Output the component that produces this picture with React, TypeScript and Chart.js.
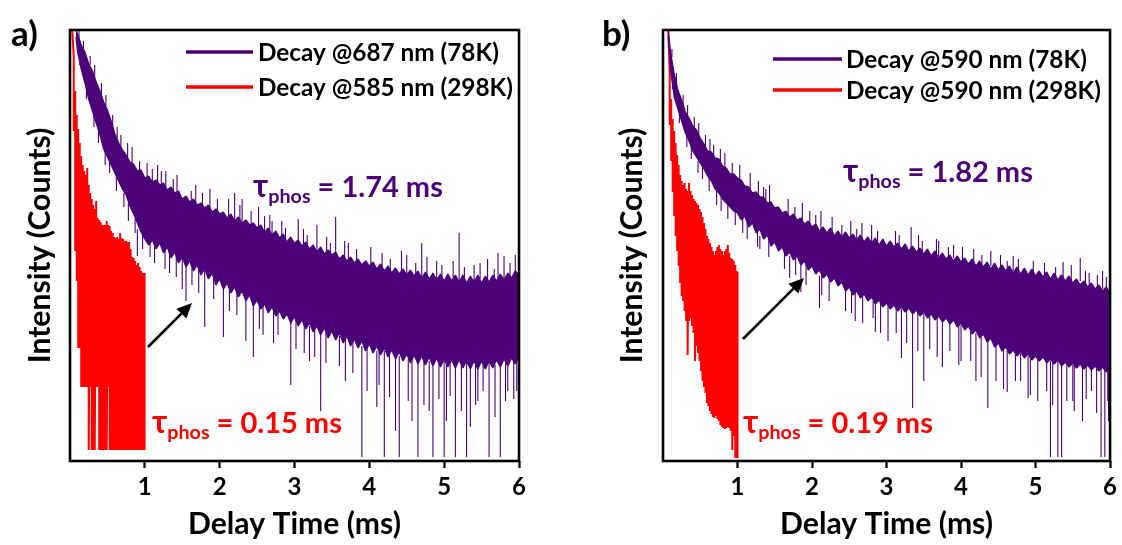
import React, { useEffect, useRef } from "react";
import { Chart, registerables } from "chart.js";

Chart.register(...registerables);

const FONT = "Lato, 'Open Sans', 'DejaVu Sans', sans-serif";
const PURPLE = "#4b0078";
const RED = "#ff0000";

// ---------- axis text ----------
const xTickValues = [0, 1, 2, 3, 4, 5, 6];
const xAxisTitle = "Delay Time (ms)";
const yAxisTitle = "Intensity (Counts)";

// ---------- panel a ----------
const legendA = ["Decay @687 nm (78K)", "Decay @585 nm (298K)"];
const tauA = ["1.74", "0.15"];

// 78 K trace: upper / lower edge of the dense noisy band (arbitrary counts)
const timePurpleA = [
  0.08, 0.1, 0.15, 0.2, 0.25, 0.3, 0.35, 0.4, 0.45, 0.5,
  0.55, 0.6, 0.65, 0.7, 0.75, 0.8, 0.85, 0.9, 0.95, 1,
  1.05, 1.1, 1.15, 1.2, 1.25, 1.3, 1.35, 1.4, 1.45, 1.5,
  1.55, 1.6, 1.65, 1.7, 1.75, 1.8, 1.85, 1.9, 1.95, 2,
  2.05, 2.1, 2.15, 2.2, 2.25, 2.3, 2.35, 2.4, 2.45, 2.5,
  2.55, 2.6, 2.65, 2.7, 2.75, 2.8, 2.85, 2.9, 2.95, 3,
  3.05, 3.1, 3.15, 3.2, 3.25, 3.3, 3.35, 3.4, 3.45, 3.5,
  3.55, 3.6, 3.65, 3.7, 3.75, 3.8, 3.85, 3.9, 3.95, 4,
  4.05, 4.1, 4.15, 4.2, 4.25, 4.3, 4.35, 4.4, 4.45, 4.5,
  4.55, 4.6, 4.65, 4.7, 4.75, 4.8, 4.85, 4.9, 4.95, 5,
  5.05, 5.1, 5.15, 5.2, 5.25, 5.3, 5.35, 5.4, 5.45, 5.5,
  5.55, 5.6, 5.65, 5.7, 5.75, 5.8, 5.85, 5.9, 5.95, 6,
];
const hiPurpleA = [
  431, 427, 416, 409, 397, 390, 379, 370, 359, 351,
  340, 327, 318, 311, 306, 299, 297, 290, 291, 283,
  285, 279, 281, 276, 278, 271, 274, 268, 270, 262,
  265, 259, 262, 256, 258, 253, 256, 249, 252, 247,
  249, 243, 247, 240, 244, 238, 241, 236, 238, 233,
  236, 229, 233, 226, 230, 223, 227, 219, 224, 218,
  221, 215, 219, 212, 216, 209, 214, 207, 211, 206,
  209, 202, 206, 200, 204, 198, 202, 196, 200, 195,
  199, 192, 197, 190, 195, 188, 193, 187, 192, 186,
  191, 185, 190, 183, 189, 182, 188, 181, 187, 180,
  187, 180, 186, 179, 186, 178, 185, 179, 186, 178,
  185, 179, 186, 180, 187, 181, 188, 183, 190, 186,
];
const loPurpleA = [
  424, 410, 392, 378, 362, 350, 338, 326, 312, 304,
  296, 288, 280, 272, 266, 255, 247, 238, 229, 222,
  216, 221, 212, 218, 208, 214, 203, 209, 198, 204,
  194, 200, 190, 196, 186, 192, 182, 188, 176, 182,
  172, 178, 168, 174, 164, 170, 160, 166, 155, 161,
  152, 157, 148, 154, 145, 150, 142, 147, 138, 144,
  135, 141, 132, 138, 129, 135, 126, 133, 123, 130,
  121, 128, 118, 125, 115, 122, 113, 120, 110, 117,
  108, 115, 106, 113, 104, 111, 102, 109, 100, 107,
  98, 106, 97, 105, 96, 104, 95, 103, 94, 102,
  94, 101, 93, 101, 93, 100, 92, 100, 92, 100,
  92, 100, 93, 101, 94, 102, 95, 103, 97, 104,
];
// large isolated spikes leaving the band: time, start, end
const spikeTimePurpleA = [
  0.9, 1.1, 1.22, 1.5, 1.55, 1.62, 1.8, 2.05, 2.2, 2.3,
  2.35, 2.45, 2.6, 2.7, 2.72, 2.95, 3.05, 3.2, 3.3, 3.35,
  3.55, 3.6, 3.72, 3.9, 4.1, 4.2, 4.35, 4.4, 4.5, 4.52,
  4.65, 4.7, 4.8, 4.85, 4.9, 5, 5.08, 5.15, 5.2, 5.3,
  5.35, 5.4, 5.45, 5.58, 5.6, 5.75, 5.8, 5.85, 5.93, 5.95,
];
const spikeFromPurpleA = [
  232, 270, 268, 205, 200, 250, 190, 175, 235, 235,
  165, 160, 225, 225, 150, 140, 210, 135, 205, 130,
  200, 125, 198, 115, 110, 110, 105, 105, 185, 102,
  100, 183, 100, 100, 182, 100, 100, 100, 180, 100,
  100, 180, 100, 178, 100, 100, 180, 100, 100, 186,
];
const spikeToPurpleA = [
  205, 292, 290, 172, 160, 270, 134, 124, 268, 262,
  120, 104, 245, 240, 118, 76, 242, 100, 236, 50,
  244, 95, 218, 4, 54, 4, 30, 4, 206, 60,
  4, 218, 50, 4, 200, 4, 65, 4, 228, 4,
  34, 196, 60, 202, 4, 4, 205, 70, 62, 206,
];
// small spikes fringing the band: time, start, end
const fineTimePurpleA = [
  0.12, 0.13, 0.18, 0.22, 0.27, 0.32, 0.33, 0.38, 0.42, 0.47,
  0.48, 0.53, 0.57, 0.62, 0.63, 0.68, 0.72, 0.77, 0.78, 0.83,
  0.87, 0.93, 0.97, 1.03, 1.07, 1.13, 1.17, 1.27, 1.28, 1.33,
  1.38, 1.42, 1.43, 1.63, 1.68, 1.72, 1.77, 1.87, 1.92, 1.97,
  2.12, 2.13, 2.23, 2.27, 2.42, 2.52, 2.53, 2.58, 2.67, 2.78,
  2.83, 2.88, 3.02, 3.12, 3.13, 3.17, 3.27, 3.42, 3.43, 3.48,
  3.67, 3.68, 3.78, 3.83, 3.97, 4.02, 4.13, 4.17, 4.27, 4.28,
  4.43, 4.57, 4.62, 4.73, 4.77, 4.93, 4.97, 5.03, 5.12, 5.23,
  5.27, 5.42, 5.48, 5.52, 5.67, 5.68, 5.72, 5.82, 5.88, 5.97,
];
const fineFromPurpleA = [
  422, 404, 411, 372, 396, 346, 383, 330, 365, 310,
  355, 300, 333, 285, 320, 313, 268, 302, 258, 296,
  242, 287, 228, 282, 220, 218, 279, 212, 274, 210,
  270, 205, 268, 196, 258, 193, 255, 252, 184, 249,
  245, 175, 171, 240, 237, 233, 158, 156, 229, 149,
  224, 223, 141, 216, 137, 214, 133, 129, 208, 207,
  203, 122, 119, 199, 114, 197, 111, 193, 107, 191,
  190, 102, 187, 101, 185, 99, 183, 98, 182, 97,
  182, 96, 182, 96, 182, 96, 183, 98, 185, 100,
];
const fineToPurpleA = [
  430, 396, 420, 362, 405, 334, 396, 318, 378, 296,
  366, 288, 346, 270, 334, 326, 254, 318, 240, 314,
  228, 300, 212, 298, 204, 198, 296, 192, 290, 188,
  282, 184, 286, 176, 276, 168, 268, 272, 162, 262,
  262, 150, 146, 256, 250, 254, 132, 126, 246, 126,
  240, 233, 112, 232, 108, 226, 104, 98, 224, 218,
  220, 80, 88, 212, 70, 214, 76, 208, 64, 202,
  210, 40, 198, 56, 204, 62, 196, 40, 200, 50,
  194, 56, 198, 70, 192, 44, 208, 60, 198, 70,
];

// 298 K trace
const timeRedA = [
  0.03, 0.05, 0.07, 0.09, 0.11, 0.13, 0.15, 0.17, 0.19, 0.21,
  0.23, 0.25, 0.27, 0.29, 0.31, 0.33, 0.35, 0.37, 0.39, 0.41,
  0.43, 0.45, 0.47, 0.49, 0.51, 0.53, 0.55, 0.57, 0.59, 0.61,
  0.63, 0.65, 0.67, 0.69, 0.71, 0.73, 0.75, 0.77, 0.79, 0.81,
  0.83, 0.85, 0.87, 0.89, 0.91, 0.93, 0.95, 0.97, 0.99, 1,
];
const hiRedA = [
  431, 405, 370, 346, 332, 318, 305, 296, 290, 286,
  293, 276, 268, 262, 256, 252, 260, 243, 241, 239,
  236, 236, 236, 240, 236, 235, 230, 228, 224, 223,
  224, 222, 228, 223, 222, 220, 220, 219, 219, 212,
  204, 203, 200, 196, 198, 194, 190, 188, 188, 188,
];
const loRedA = [
  431, 330, 210, 180, 113, 113, 74, 74, 74, 74,
  74, 11, 74, 11, 11, 11, 74, 74, 11, 11,
  11, 11, 11, 11, 74, 11, 11, 11, 11, 11,
  11, 11, 11, 11, 11, 11, 11, 11, 11, 11,
  11, 11, 11, 11, 11, 11, 11, 11, 11, 11,
];

// ---------- panel b ----------
const legendB = ["Decay @590 nm (78K)", "Decay @590 nm (298K)"];
const tauB = ["1.82", "0.19"];

const timePurpleB = [
  0.07, 0.1, 0.15, 0.2, 0.25, 0.3, 0.35, 0.4, 0.45, 0.5,
  0.55, 0.6, 0.65, 0.7, 0.75, 0.8, 0.85, 0.9, 0.95, 1,
  1.05, 1.1, 1.15, 1.2, 1.25, 1.3, 1.35, 1.4, 1.45, 1.5,
  1.55, 1.6, 1.65, 1.7, 1.75, 1.8, 1.85, 1.9, 1.95, 2,
  2.05, 2.1, 2.15, 2.2, 2.25, 2.3, 2.35, 2.4, 2.45, 2.5,
  2.55, 2.6, 2.65, 2.7, 2.75, 2.8, 2.85, 2.9, 2.95, 3,
  3.05, 3.1, 3.15, 3.2, 3.25, 3.3, 3.35, 3.4, 3.45, 3.5,
  3.55, 3.6, 3.65, 3.7, 3.75, 3.8, 3.85, 3.9, 3.95, 4,
  4.05, 4.1, 4.15, 4.2, 4.25, 4.3, 4.35, 4.4, 4.45, 4.5,
  4.55, 4.6, 4.65, 4.7, 4.75, 4.8, 4.85, 4.9, 4.95, 5,
  5.05, 5.1, 5.15, 5.2, 5.25, 5.3, 5.35, 5.4, 5.45, 5.5,
  5.55, 5.6, 5.65, 5.7, 5.75, 5.8, 5.85, 5.9, 5.95, 6,
];
const hiPurpleB = [
  431, 410, 387, 371, 361, 349, 343, 335, 331, 323,
  317, 310, 309, 303, 302, 295, 293, 287, 287, 283,
  281, 275, 274, 268, 269, 264, 264, 258, 259, 253,
  254, 248, 250, 244, 247, 241, 243, 237, 240, 234,
  237, 230, 234, 228, 233, 225, 230, 224, 229, 223,
  227, 221, 226, 219, 224, 218, 223, 216, 222, 215,
  220, 214, 218, 212, 217, 210, 215, 209, 213, 207,
  212, 205, 210, 203, 208, 202, 206, 200, 205, 199,
  203, 197, 202, 195, 200, 194, 199, 192, 198, 191,
  196, 190, 195, 188, 194, 187, 193, 186, 192, 185,
  190, 184, 189, 182, 188, 181, 186, 180, 185, 178,
  182, 176, 180, 174, 178, 172, 176, 170, 174, 168,
];
const loPurpleB = [
  425, 392, 364, 352, 340, 328, 320, 310, 304, 298,
  292, 285, 280, 272, 268, 262, 258, 254, 250, 248,
  241, 245, 234, 238, 228, 232, 222, 226, 215, 219,
  210, 214, 205, 209, 201, 205, 196, 200, 191, 195,
  187, 191, 183, 187, 179, 183, 175, 179, 170, 174,
  166, 170, 163, 167, 160, 164, 157, 161, 154, 158,
  152, 156, 150, 154, 149, 153, 147, 151, 145, 149,
  143, 147, 141, 145, 139, 143, 137, 141, 134, 138,
  131, 135, 127, 131, 123, 127, 119, 123, 114, 118,
  110, 114, 107, 111, 105, 109, 103, 107, 101, 105,
  100, 104, 98, 102, 97, 101, 95, 99, 94, 98,
  93, 97, 92, 96, 91, 95, 90, 94, 89, 93,
];
const spikeTimePurpleB = [
  1.3, 1.35, 1.7, 1.85, 2.05, 2.1, 2.4, 2.45, 2.6, 2.8,
  2.82, 2.85, 3.2, 3.33, 3.35, 3.5, 3.7, 3.75, 3.9, 4,
  4.2, 4.36, 4.4, 4.62, 4.7, 4.8, 4.9, 5.15, 5.2, 5.3,
  5.35, 5.37, 5.5, 5.6, 5.75, 5.88, 5.9, 5.93, 5.98,
];
const spikeFromPurpleB = [
  225, 262, 205, 200, 232, 185, 224, 172, 222, 218,
  160, 158, 152, 212, 150, 148, 205, 142, 203, 136,
  128, 122, 195, 110, 190, 107, 105, 100, 100, 100,
  98, 183, 96, 180, 92, 92, 172, 92, 92,
];
const spikeToPurpleB = [
  212, 274, 183, 169, 246, 153, 236, 150, 232, 236,
  143, 129, 103, 234, 53, 80, 220, 94, 216, 100,
  80, 53, 210, 69, 205, 80, 63, 70, 4, 4,
  4, 199, 60, 203, 70, 4, 190, 4, 40,
];
const fineTimePurpleB = [
  0.12, 0.13, 0.18, 0.22, 0.27, 0.32, 0.33, 0.38, 0.42, 0.47,
  0.48, 0.53, 0.57, 0.62, 0.63, 0.68, 0.72, 0.77, 0.78, 0.83,
  0.87, 0.93, 0.97, 1.03, 1.07, 1.13, 1.17, 1.27, 1.28, 1.38,
  1.42, 1.43, 1.63, 1.68, 1.77, 1.78, 1.87, 1.92, 1.97, 2.12,
  2.13, 2.23, 2.27, 2.52, 2.53, 2.58, 2.67, 2.68, 2.88, 2.92,
  3.02, 3.12, 3.13, 3.17, 3.27, 3.42, 3.43, 3.48, 3.58, 3.67,
  3.68, 3.83, 3.85, 3.97, 4.02, 4.13, 4.17, 4.27, 4.28, 4.47,
  4.53, 4.57, 4.62, 4.73, 4.77, 4.93, 4.97, 5.03, 5.12, 5.23,
  5.27, 5.42, 5.48, 5.52, 5.63, 5.67, 5.68, 5.72, 5.82, 5.83,
  5.95, 5.97,
];
const fineFromPurpleB = [
  404, 382, 378, 348, 356, 325, 346, 314, 333, 300,
  326, 295, 314, 283, 308, 305, 270, 298, 264, 292,
  256, 286, 250, 282, 244, 240, 272, 232, 266, 261,
  223, 258, 211, 246, 243, 204, 240, 197, 237, 232,
  188, 184, 228, 225, 172, 170, 222, 166, 219, 158,
  156, 215, 153, 214, 151, 150, 209, 208, 146, 206,
  144, 203, 140, 137, 201, 131, 197, 126, 196, 118,
  192, 113, 191, 109, 188, 104, 187, 103, 185, 100,
  183, 97, 180, 96, 95, 177, 94, 176, 92, 173,
  171, 91,
];
const fineToPurpleB = [
  412, 372, 388, 338, 366, 314, 356, 302, 344, 288,
  338, 282, 326, 270, 322, 316, 256, 312, 250, 308,
  242, 298, 236, 296, 228, 222, 288, 214, 280, 272,
  204, 276, 192, 262, 254, 186, 258, 176, 250, 250,
  166, 160, 244, 240, 148, 140, 238, 138, 230, 128,
  120, 230, 128, 226, 118, 110, 226, 220, 112, 222,
  104, 214, 110, 96, 214, 100, 212, 84, 206, 80,
  206, 72, 200, 80, 202, 66, 200, 60, 198, 56,
  194, 60, 196, 50, 40, 190, 62, 188, 48, 186,
  184, 60,
];

const timeRedB = [
  0.07, 0.09, 0.11, 0.13, 0.15, 0.17, 0.19, 0.21, 0.23, 0.25,
  0.27, 0.29, 0.31, 0.33, 0.35, 0.37, 0.39, 0.41, 0.43, 0.45,
  0.47, 0.49, 0.51, 0.53, 0.55, 0.57, 0.59, 0.61, 0.63, 0.65,
  0.67, 0.69, 0.71, 0.73, 0.75, 0.77, 0.79, 0.81, 0.83, 0.85,
  0.87, 0.89, 0.91, 0.93, 0.95, 0.97, 0.99, 1,
];
const hiRedB = [
  431, 390, 362, 342, 330, 318, 306, 296, 286, 280,
  276, 278, 272, 270, 278, 270, 266, 262, 260, 258,
  256, 252, 249, 244, 238, 232, 225, 222, 218, 214,
  210, 206, 210, 214, 216, 212, 210, 206, 210, 212,
  216, 208, 203, 202, 200, 196, 190, 189,
];
const loRedB = [
  431, 336, 300, 269, 245, 225, 210, 195, 178, 165,
  160, 150, 140, 106, 140, 143, 135, 128, 100, 115,
  108, 100, 90, 80, 74, 68, 58, 55, 50, 47,
  44, 43, 45, 42, 40, 36, 34, 33, 32, 33,
  34, 33, 30, 11, 25, 3, 3, 3,
];

// ---------- layout (page pixels) ----------
type Band = {
  t: number[]; hi: number[]; lo: number[];
  st: number[]; sFrom: number[]; sTo: number[];
  ft: number[]; fFrom: number[]; fTo: number[];
};
type PanelCfg = {
  left: number;
  plotLeft: number;
  plotRight: number;
  yTitleX: number;
  label: string;
  labelX: number;
  legend: string[];
  legendY: number[];
  legendLine: [number, number];
  legendTextX: number;
  tau: string[];
  tauPos: [number, number][];
  arrow: [number, number, number, number];
  purple: Band;
  red: [number[], number[], number[]];
};

const CANVAS_W = 561;
const CANVAS_H = 545;
const PLOT_TOP = 30;
const PLOT_BOTTOM = 461;

const PANEL_A: PanelCfg = {
  left: 0,
  plotLeft: 70,
  plotRight: 519,
  yTitleX: 40,
  label: "a)",
  labelX: 11,
  legend: legendA,
  legendY: [52, 87],
  legendLine: [186, 253],
  legendTextX: 258,
  tau: tauA,
  tauPos: [[253, 197], [152, 433]],
  arrow: [148, 347, 192, 303],
  purple: {
    t: timePurpleA, hi: hiPurpleA, lo: loPurpleA,
    st: spikeTimePurpleA, sFrom: spikeFromPurpleA, sTo: spikeToPurpleA,
    ft: fineTimePurpleA, fFrom: fineFromPurpleA, fTo: fineToPurpleA,
  },
  red: [timeRedA, hiRedA, loRedA],
};

const PANEL_B: PanelCfg = {
  left: 561,
  plotLeft: 663,
  plotRight: 1113,
  yTitleX: 632,
  label: "b)",
  labelX: 602,
  legend: legendB,
  legendY: [59, 90],
  legendLine: [773, 842],
  legendTextX: 846,
  tau: tauB,
  tauPos: [[843, 182], [743, 433]],
  arrow: [743, 339, 804, 278],
  purple: {
    t: timePurpleB, hi: hiPurpleB, lo: loPurpleB,
    st: spikeTimePurpleB, sFrom: spikeFromPurpleB, sTo: spikeToPurpleB,
    ft: fineTimePurpleB, fFrom: fineFromPurpleB, fTo: fineToPurpleB,
  },
  red: [timeRedB, hiRedB, loRedB],
};

function zigzag(t: number[], hi: number[], lo: number[]) {
  const pts: { x: number; y: number }[] = [];
  for (let i = 0; i < t.length; i++) {
    pts.push({ x: t[i], y: hi[i] });
    pts.push({ x: t[i], y: lo[i] });
  }
  return pts;
}

function edge(t: number[], v: number[]) {
  return t.map((x, i) => ({ x, y: v[i] }));
}

function spikes(t: number[], from: number[], to: number[]) {
  const pts: { x: number; y: number | null }[] = [];
  for (let i = 0; i < t.length; i++) {
    pts.push({ x: t[i], y: from[i] });
    pts.push({ x: t[i], y: to[i] });
    pts.push({ x: t[i], y: null });
  }
  return pts;
}

function fitSize(ctx: CanvasRenderingContext2D, text: string, weight: string, target: number) {
  ctx.font = `${weight} 100px ${FONT}`;
  return (100 * target) / ctx.measureText(text).width;
}

function tauWidth(ctx: CanvasRenderingContext2D, value: string, S: number) {
  ctx.font = `bold ${S * 1.1}px ${FONT}`;
  let w = ctx.measureText("τ").width;
  ctx.font = `bold ${S}px ${FONT}`;
  w += ctx.measureText(` = ${value} ms`).width;
  ctx.font = `bold ${S * 0.68}px ${FONT}`;
  w += ctx.measureText("phos").width;
  return w;
}

function drawTau(ctx: CanvasRenderingContext2D, x: number, y: number, value: string, color: string, S: number) {
  ctx.fillStyle = color;
  ctx.textBaseline = "alphabetic";
  ctx.textAlign = "left";
  ctx.font = `bold ${S * 1.1}px ${FONT}`;
  ctx.fillText("τ", x, y);
  x += ctx.measureText("τ").width;
  ctx.font = `bold ${S * 0.68}px ${FONT}`;
  ctx.fillText("phos", x, y + S * 0.2);
  x += ctx.measureText("phos").width;
  ctx.font = `bold ${S}px ${FONT}`;
  ctx.fillText(` = ${value} ms`, x, y);
}

function drawArrow(ctx: CanvasRenderingContext2D, x1: number, y1: number, x2: number, y2: number) {
  const ang = Math.atan2(y2 - y1, x2 - x1);
  const hl = 15;
  const hw = 7;
  const bx = x2 - hl * Math.cos(ang);
  const by = y2 - hl * Math.sin(ang);
  ctx.strokeStyle = "#000";
  ctx.fillStyle = "#000";
  ctx.lineWidth = 2.6;
  ctx.beginPath();
  ctx.moveTo(x1, y1);
  ctx.lineTo(bx, by);
  ctx.stroke();
  ctx.beginPath();
  ctx.moveTo(x2, y2);
  ctx.lineTo(bx + hw * Math.sin(ang), by - hw * Math.cos(ang));
  ctx.lineTo(bx - hw * Math.sin(ang), by + hw * Math.cos(ang));
  ctx.closePath();
  ctx.fill();
}

function Panel({ cfg }: { cfg: PanelCfg }) {
  const ref = useRef<HTMLCanvasElement | null>(null);

  useEffect(() => {
    const canvas = ref.current;
    if (!canvas) return;
    const mctx = canvas.getContext("2d") as CanvasRenderingContext2D;
    const off = cfg.left;
    const titleSize = fitSize(mctx, xAxisTitle, "bold", 213);
    const titleLH = titleSize * 1.2;
    const legendSize = fitSize(mctx, cfg.legend[0], "bold", 241);
    const tauSize = (100 * 190) / tauWidth(mctx, cfg.tau[0], 100);

    const overlay = {
      id: "overlay",
      afterDraw(chart: any) {
        const { ctx, chartArea: ca } = chart;
        ctx.save();
        ctx.strokeStyle = "#000";
        ctx.lineWidth = 2.6;
        ctx.strokeRect(ca.left, ca.top, ca.right - ca.left, ca.bottom - ca.top);
        ctx.fillStyle = "#000";
        ctx.textAlign = "left";
        ctx.textBaseline = "alphabetic";
        ctx.font = `bold 35px ${FONT}`;
        ctx.fillText(cfg.label, cfg.labelX - off, 46);
        const colors = [PURPLE, RED];
        for (let i = 0; i < 2; i++) {
          const y = cfg.legendY[i];
          ctx.strokeStyle = colors[i];
          ctx.lineWidth = 3.5;
          ctx.beginPath();
          ctx.moveTo(cfg.legendLine[0] - off, y);
          ctx.lineTo(cfg.legendLine[1] - off, y);
          ctx.stroke();
          ctx.fillStyle = "#000";
          ctx.font = `bold ${legendSize}px ${FONT}`;
          ctx.textBaseline = "middle";
          ctx.fillText(cfg.legend[i], cfg.legendTextX - off, y + 1);
        }
        drawTau(ctx, cfg.tauPos[0][0] - off, cfg.tauPos[0][1], cfg.tau[0], PURPLE, tauSize);
        drawTau(ctx, cfg.tauPos[1][0] - off, cfg.tauPos[1][1], cfg.tau[1], RED, tauSize);
        drawArrow(ctx, cfg.arrow[0] - off, cfg.arrow[1], cfg.arrow[2] - off, cfg.arrow[3]);
        ctx.restore();
      },
    };

    const base = { borderJoinStyle: "bevel", pointRadius: 0, tension: 0, fill: false };
    const p = cfg.purple;

    const chart = new Chart(canvas, {
      type: "line",
      data: {
        datasets: [
          {
            ...base,
            label: cfg.legend[0] + " spikes",
            data: spikes(p.st, p.sFrom, p.sTo),
            borderColor: PURPLE,
            borderWidth: 1.1,
            spanGaps: false,
          },
          {
            ...base,
            label: cfg.legend[0] + " fine",
            data: spikes(p.ft, p.fFrom, p.fTo),
            borderColor: PURPLE,
            borderWidth: 1.1,
            spanGaps: false,
          },
          {
            ...base,
            label: cfg.legend[0],
            data: edge(p.t, p.hi),
            borderColor: PURPLE,
            borderWidth: 1.3,
            backgroundColor: PURPLE,
            fill: "+1",
          },
          {
            ...base,
            label: cfg.legend[0] + " low",
            data: edge(p.t, p.lo),
            borderColor: PURPLE,
            borderWidth: 1.3,
          },
          {
            ...base,
            label: cfg.legend[1],
            data: zigzag(cfg.red[0], cfg.red[1], cfg.red[2]),
            borderColor: RED,
            borderWidth: 2,
          },
        ],
      },
      options: {
        animation: false,
        responsive: false,
        maintainAspectRatio: false,
        layout: {
          padding: { left: 0, right: CANVAS_W - (cfg.plotRight - off), top: PLOT_TOP, bottom: 0 },
        },
        plugins: { legend: { display: false }, tooltip: { enabled: false } },
        scales: {
          x: {
            type: "linear",
            min: 0,
            max: 6,
            afterBuildTicks: (s: any) => {
              s.ticks = xTickValues.map((v) => ({ value: v }));
            },
            afterFit: (s: any) => {
              s.height = CANVAS_H - PLOT_BOTTOM;
            },
            ticks: {
              color: "#000",
              font: { family: FONT, weight: "bold", size: 24 },
              padding: 5,
              maxRotation: 0,
              autoSkip: false,
              callback: (v: any) => (v === 0 ? "" : String(v)),
            },
            grid: {
              drawOnChartArea: false,
              drawTicks: true,
              tickLength: 7,
              tickWidth: 2.2,
              tickColor: (c: any) => (c.tick && c.tick.value === 0 ? "rgba(0,0,0,0)" : "#000"),
            },
            border: { display: false },
            title: {
              display: true,
              text: xAxisTitle,
              color: "#000",
              font: { family: FONT, weight: "bold", size: titleSize },
              padding: { top: 0, bottom: 3 },
            },
          },
          y: {
            type: "linear",
            min: 0,
            max: 431,
            afterFit: (s: any) => {
              s.width = cfg.plotLeft - off;
            },
            ticks: { display: false },
            grid: { display: false },
            border: { display: false },
            title: {
              display: true,
              text: yAxisTitle,
              color: "#000",
              font: { family: FONT, weight: "bold", size: titleSize },
              padding: { top: cfg.yTitleX - off - titleLH / 2, bottom: 0 },
            },
          },
        },
      },
      plugins: [overlay],
    } as any);

    return () => chart.destroy();
  }, [cfg]);

  return (
    <canvas
      ref={ref}
      width={CANVAS_W}
      height={CANVAS_H}
      style={{ position: "absolute", left: cfg.left, top: 0, width: CANVAS_W, height: CANVAS_H }}
    />
  );
}

export default function App() {
  return (
    <div style={{ position: "fixed", left: 0, top: 0, width: 1122, height: 545, background: "#fff", overflow: "hidden" }}>
      <Panel cfg={PANEL_A} />
      <Panel cfg={PANEL_B} />
    </div>
  );
}
